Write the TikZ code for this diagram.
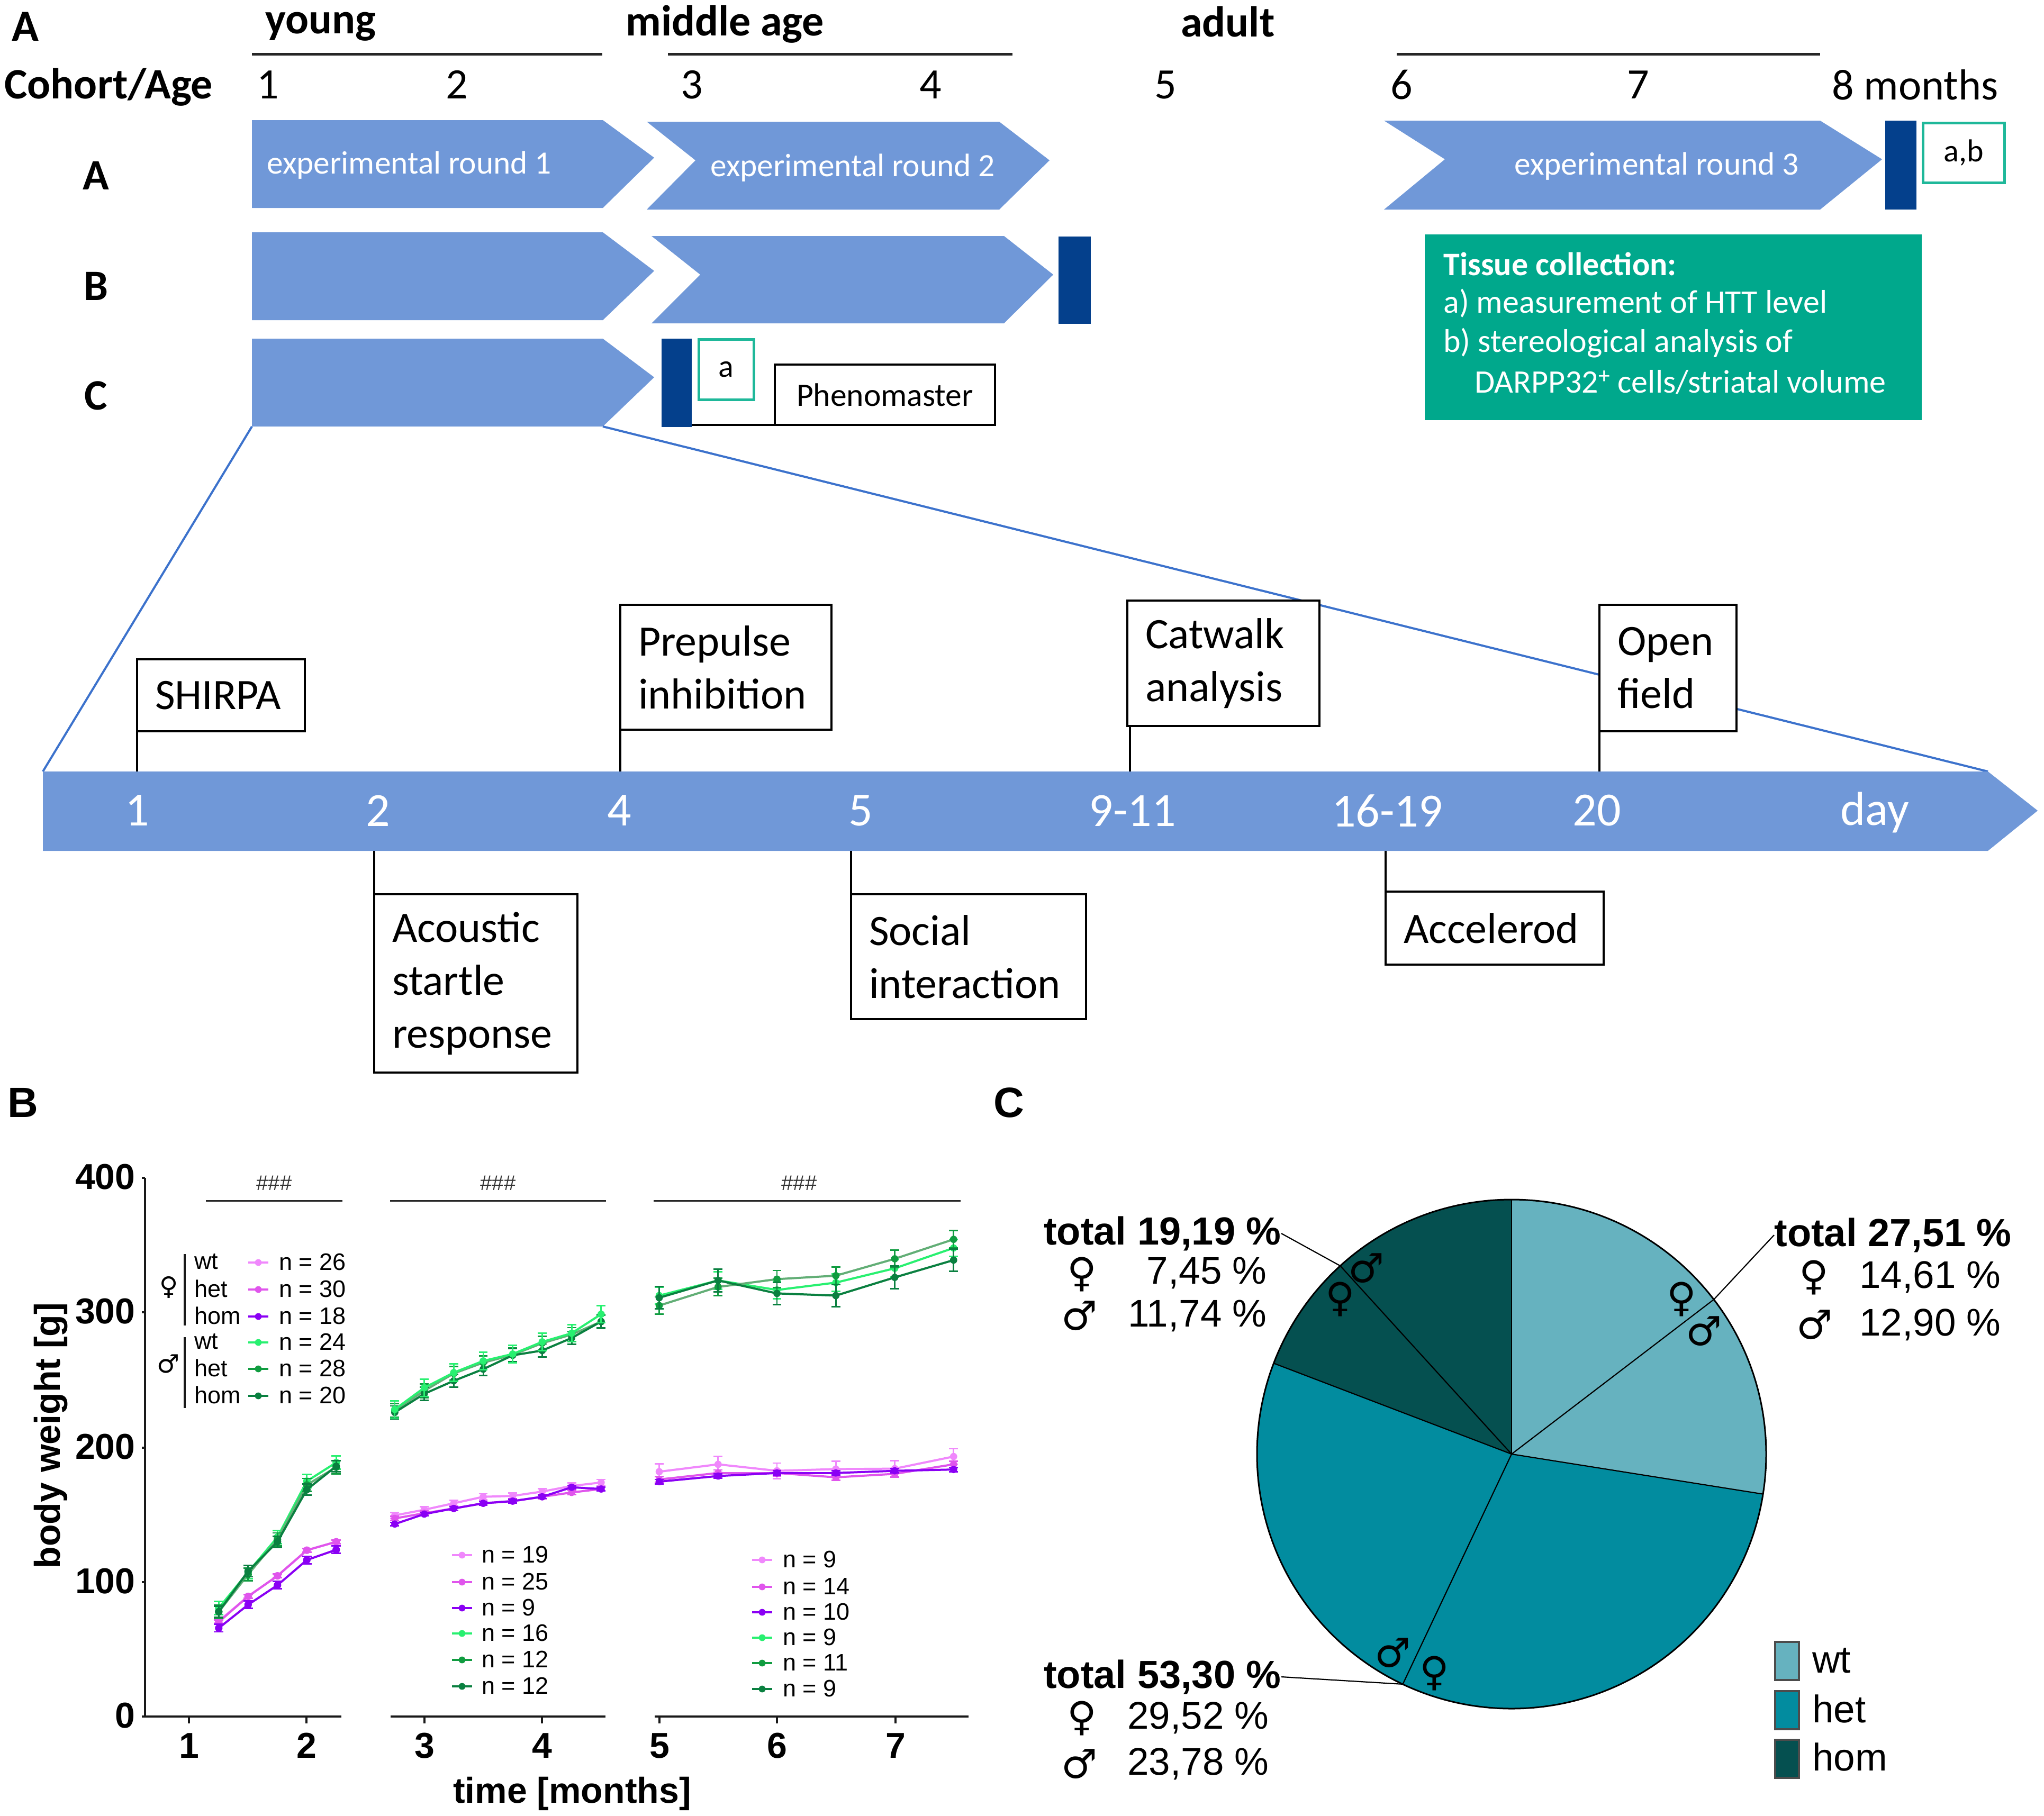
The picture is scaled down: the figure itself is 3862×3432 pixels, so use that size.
\documentclass[tikz,border=0pt]{standalone}
\usepackage{fontspec}
\usetikzlibrary{calc}
\setmainfont{Carlito}
\newfontfamily\arial{Liberation Sans}
\newfontfamily\djv{DejaVu Sans}
\definecolor{chev}{HTML}{7098D8}
\definecolor{bar}{HTML}{04408C}
\definecolor{teal}{HTML}{00A88C}
\definecolor{tealb}{HTML}{1FB89A}
\definecolor{blueline}{HTML}{3C72CC}
\definecolor{fwt}{HTML}{F088FC}
\definecolor{fhet}{HTML}{E055EC}
\definecolor{fhom}{HTML}{8A00F4}
\definecolor{mwt}{HTML}{28F070}
\definecolor{mhet}{HTML}{109C40}
\definecolor{mhetl}{HTML}{62AE76}
\definecolor{mhom}{HTML}{0A8040}
\definecolor{piewt}{HTML}{66B2BF}
\definecolor{piehet}{HTML}{028C9F}
\definecolor{piehom}{HTML}{055050}
\tikzset{
  headt/.style={font=\bfseries\fontsize{41}{49}\selectfont,inner sep=0pt},
  aget/.style={font=\fontsize{41}{49}\selectfont,inner sep=0pt},
  panel/.style={font=\arial\bfseries\fontsize{40}{40}\selectfont,inner sep=0pt},
  erlab/.style={font=\fontsize{30.7}{33}\selectfont,text=white,inner sep=0pt},
  tline/.style={font=\fontsize{45}{50}\selectfont,text=white,inner sep=0pt},
  tbox/.style={draw=black,line width=2pt,fill=white,align=left,inner ysep=0pt,inner xsep=17pt,outer sep=0pt,font=\fontsize{41}{50}\selectfont},
  tether/.style={draw=black,line width=1.6pt},
  agerule/.style={draw=black!85,line width=2.5pt},
  art/.style={font=\arial\fontsize{22.5}{27}\selectfont,inner sep=0pt},
  arb/.style={font=\arial\bfseries\fontsize{34}{40}\selectfont,inner sep=0pt},
  pct/.style={font=\arial\fontsize{36.4}{40}\selectfont,inner sep=0pt},
  tot/.style={font=\arial\bfseries\fontsize{37}{40}\selectfont,inner sep=0pt},
  symb/.style={font=\djv\fontsize{38}{38}\selectfont,inner sep=0pt},
  symsmall/.style={font=\djv\fontsize{24}{24}\selectfont,inner sep=0pt},
  axisl/.style={draw=black!90,line width=2pt},
  hashl/.style={font=\arial\fontsize{20}{24}\selectfont,text=black!80,inner sep=0pt},
  brk/.style={draw=black!85,line width=1.5pt},
  leader/.style={draw=black,line width=1.1pt},
  legsq/.style={draw=black!70,line width=2pt},
  tissue/.style={anchor=west,inner sep=0pt,text=white,font=\fontsize{31}{34}\selectfont},
}
\newcommand\dataline[6][]{%
  \def\lc{#1}\ifx\lc\empty\def\lc{#2}\fi
  \foreach \yy [count=\ii from 0, evaluate=\ii as \xx using #3+#4*\ii, remember=\yy as \py (initially 0), remember=\xx as \px (initially 0)] in {#6} {
    \ifnum\ii>0 \draw[\lc,line width=2pt,line cap=round] (\px,\py) -- (\xx,\yy); \fi
  }
  \foreach \yy [count=\ii from 0, evaluate=\ii as \xx using #3+#4*\ii] in {#6} {
    \draw[#2,line width=1.4pt] (\xx,\yy-#5) -- (\xx,\yy+#5) (\xx-\capw,\yy-#5) -- (\xx+\capw,\yy-#5) (\xx-\capw,\yy+#5) -- (\xx+\capw,\yy+#5);
    \fill[#2] (\xx,\yy) circle[x radius=\rdx pt,y radius=\rdy pt];
  }
}
\newcommand\legrow[6]{%
  \draw[#2,line width=1.6pt] (#3-19,#5) -- (#3+19,#5);
  \fill[#2] (#3,#5) circle[radius=3.2pt];
  \node[art,anchor=west] (#1) at (#4,#5-1) {#6};
}
\newcommand\tbx[6]{%
  \pgfmathsetmacro\bw{(#4-#2)/2}\pgfmathsetmacro\bh{(#5-#3)/2}\pgfmathsetmacro\bt{\bw-34}%
  \node[tbox,anchor=north west,minimum width=\bw pt,minimum height=\bh pt,text width=\bt pt] (#1) at (#2,#3) {#6};
}
\newcommand\sect[3]{\fill[#1] (pc) -- ++(90-#2:240.5pt) arc[start angle=90-#2,end angle=90-#3,radius=240.5pt] -- cycle;}
\begin{document}
\begin{tikzpicture}[x=0.5pt,y=-0.5pt]
\useasboundingbox (0,0) rectangle (3862,3432);
\fill[white] (0,0) rectangle (3862,3432);

% ---- panel A, top
\node[inner sep=0pt,font=\bfseries\fontsize{42}{42}\selectfont] (pA) at (48,50) {A};
\node[headt,anchor=west] (young) at (501,50) {young};
\node[headt,anchor=west] (midage) at (1182,46) {middle age};
\node[headt,anchor=west] (adult) at (2231,41) {adult};
\draw[agerule] (476,102) -- (1138,102);
\draw[agerule] (1262,102) -- (1913,102);
\draw[agerule] (2639,102) -- (3439,102);
\node[headt,anchor=west] (cohort) at (8,165) {Cohort/Age};
\node[aget] (m1) at (506,160) {1};
\node[aget] (m2) at (863,160) {2};
\node[aget] (m3) at (1307,160) {3};
\node[aget] (m4) at (1758,160) {4};
\node[aget] (m5) at (2202,160) {5};
\node[aget] (m6) at (2648,160) {6};
\node[aget] (m7) at (3095,160) {7};
\node[aget,anchor=west] (m8) at (3461,160) {8 months};
\node[headt] (rA) at (181,332) {A};
\node[headt] (rB) at (181,541) {B};
\node[headt] (rC) at (181,748) {C};

\fill[chev] (476,227) -- (1139,227) -- (1236,298) -- (1139,393) -- (476,393) -- cycle;
\fill[chev] (1222,230) -- (1888,230) -- (1983,303) -- (1888,396) -- (1222,396) -- (1314,303) -- cycle;
\fill[chev] (2615,228) -- (3439,228) -- (3556,301) -- (3439,396) -- (2615,396) -- (2730,301) -- cycle;
\fill[chev] (476,439) -- (1139,439) -- (1236,512) -- (1139,605) -- (476,605) -- cycle;
\fill[chev] (1231,446) -- (1897,446) -- (1990,519) -- (1897,611) -- (1231,611) -- (1323,519) -- cycle;
\fill[chev] (476,640) -- (1139,640) -- (1236,713) -- (1139,806) -- (476,806) -- cycle;
\coordinate (cbl) at (476,806);
\coordinate (cbr) at (1139,806);
\node[erlab,anchor=west] (er1) at (504,312) {experimental round 1};
\node[erlab,anchor=west] (er2) at (1342,317) {experimental round 2};
\node[erlab,anchor=west] (er3) at (2861,314) {experimental round 3};

\fill[bar] (3562,228) rectangle (3621,396);
\fill[bar] (2000,447) rectangle (2061,612);
\fill[bar] (1250,640) rectangle (1307,807);
\coordinate (barC) at (1307,803);

\node[draw=tealb,line width=2.5pt,fill=white,anchor=north west,outer sep=0pt,minimum width=52pt,minimum height=57pt,inner sep=0pt,font=\fontsize{30}{32}\selectfont] (boxa) at (1320,641) {a};
\node[draw=tealb,line width=2.5pt,fill=white,anchor=north west,outer sep=0pt,minimum width=77pt,minimum height=56.5pt,inner sep=0pt,font=\fontsize{30}{32}\selectfont] (boxab) at (3633,232) {a,b};
\node[draw=black,line width=2pt,fill=white,anchor=north west,outer sep=0pt,minimum width=208pt,minimum height=57pt,inner sep=0pt,font=\fontsize{30.8}{32}\selectfont] (pheno) at (1464,689) {Phenomaster};
\draw[tether] (barC) -- (barC -| pheno.west);

\fill[teal] (2692,443) rectangle (3631,794);
\node[tissue,font=\bfseries\fontsize{31}{34}\selectfont] (ti1) at (2727,499) {Tissue collection:};
\node[tissue] (ti2) at (2727,573) {a) measurement of HTT level};
\node[tissue] (ti3) at (2727,648) {b) stereological analysis of};
\node[tissue] (ti4) at (2786,722) {DARPP32\textsuperscript{+} cells/striatal volume};

% ---- time line
\coordinate (tll) at (81,1458);
\coordinate (tlr) at (3756,1458);
\draw[blueline,line width=2pt] (cbl) -- (tll);
\draw[blueline,line width=2pt] (cbr) -- (tlr);
\fill[chev] (81,1458) -- (3756,1458) -- (3850,1532) -- (3756,1608) -- (81,1608) -- cycle;
\node[tline] (d1) at (259,1532) {1};
\node[tline] (d2) at (714,1532) {2};
\node[tline] (d4) at (1170,1532) {4};
\node[tline] (d5) at (1626,1532) {5};
\node[tline] (d9) at (2140,1532) {9-11};
\node[tline] (d16) at (2621,1532) {16-19};
\node[tline] (d20) at (3017,1532) {20};
\node[tline] (dday) at (3542,1535) {day};

\tbx{shirpa}{259}{1246}{576}{1382}{SHIRPA}
\tbx{pre}{1172}{1143}{1571}{1379}{Prepulse\\inhibition}
\tbx{cat}{2130}{1135}{2493}{1372}{Catwalk\\analysis}
\tbx{open}{3022}{1143}{3281}{1382}{Open\\field}
\tbx{acou}{707}{1690}{1091}{2027}{Acoustic\\startle\\response}
\tbx{soc}{1608}{1690}{2052}{1926}{Social\\interaction}
\tbx{acc}{2618}{1685}{3030}{1823}{Accelerod}
\coordinate (t1) at (259,1458);
\coordinate (t4) at (1172,1458);
\coordinate (t9) at (2135,1458);
\coordinate (t20) at (3022,1458);
\coordinate (t2) at (707,1608);
\coordinate (t5) at (1608,1608);
\coordinate (t16) at (2618,1608);
\draw[tether] (shirpa.south west) -- (t1);
\draw[tether] (pre.south west) -- (t4);
\draw[tether] (t9 |- cat.south) -- (t9);
\draw[tether] (open.south west) -- (t20);
\draw[tether] (acou.north west) -- (t2);
\draw[tether] (soc.north west) -- (t5);
\draw[tether] (acc.north west) -- (t16);

% ---- panel B
\node[panel] (pB) at (43,2084) {B};
\draw[axisl] (274,2226) -- (274,3244) -- (645,3244);
\draw[axisl] (738,3244) -- (1144,3244);
\draw[axisl] (1237,3244) -- (1830,3244);
\foreach \v/\yy in {400/2226,300/2480,200/2736,100/2990,0/3244} {
  \draw[axisl] (268,\yy) -- (274,\yy);
  \node[arb,anchor=east] (yt\v) at (256,\yy-2) {\v};
}
\foreach \m/\xx in {1/357,2/579,3/802,4/1024,5/1246,6/1468,7/1692} {
  \draw[axisl] (\xx,3244) -- (\xx,3257);
  \node[arb] (xt\m) at (\xx,3299) {\m};
}
\node[arb,rotate=90] (ylab) at (96,2713) {body weight [g]};
\node[arb] (xlab) at (1081,3390) {time [months]};
\draw[brk] (389,2269) -- (647,2269);
\draw[brk] (737,2269) -- (1145,2269);
\draw[brk] (1235,2269) -- (1815,2269);
\node[hashl] (hash1) at (518,2236) {\#\#\#};
\node[hashl] (hash2) at (941,2236) {\#\#\#};
\node[hashl] (hash3) at (1510,2236) {\#\#\#};

% data: first block
\begin{scope}[shift={(0,2050)},xscale=0.6378,yscale=0.8814]
\def\capw{14}\def\rdx{5.6}\def\rdy{4.0}
\dataline{fwt}{648}{87}{4}{1150,1097,1053,998,980}
\dataline{fhet}{648}{87}{4}{1152,1097,1053,998,980}
\dataline{fhom}{648}{87}{8}{1165,1115,1073,1019,997}
\dataline{mwt}{648}{87}{14}{1122,1045,970,850,810}
\dataline[mhetl]{mhet}{648}{87}{14}{1130,1050,975,858,820}
\dataline{mhom}{648}{87}{12}{1130,1043,980,868,818}
\end{scope}
% second block
\begin{scope}[shift={(700,2150)},xscale=0.7651,yscale=0.8177]
\def\capw{11}\def\rdx{4.5}\def\rdy{4.2}
\dataline{fwt}{60}{72.8}{7}{873,860,845,830,828,818,805,797}
\dataline{fhet}{60}{72.8}{5}{880,868,857,845,840,830,820,812}
\dataline{fhom}{60}{72.8}{4}{893,870,857,845,840,830,808,812}
\dataline[mhetl]{mhet}{60}{72.8}{16}{630,585,545,520,502,475,455,425}
\dataline{mhom}{60}{72.8}{15}{635,592,562,535,503,492,463,425}
\dataline{mwt}{60}{72.8}{20}{628,578,543,516,500,472,452,408}
\end{scope}
% third block
\begin{scope}[shift={(700,2150)},xscale=0.7651,yscale=0.8177]
\def\capw{11}\def\rdx{4.5}\def\rdy{4.2}
\dataline{fwt}{713}{145.4}{18}{772,755,770,766,765,737}
\dataline{fhet}{713}{145.4}{7}{790,775,775,785,777,755}
\dataline{fhom}{713}{145.4}{5}{795,782,775,775,770,767}
\dataline{mwt}{713}{145.4}{20}{365,330,352,335,302,255}
\dataline[mhetl]{mhet}{713}{145.4}{20}{388,345,327,319,280,235}
\dataline{mhom}{713}{145.4}{26}{370,330,360,365,323,283}
\end{scope}

% legends
\draw[black!90,line width=2pt] (349,2370) -- (349,2505);
\draw[black!90,line width=2pt] (349,2527) -- (349,2661);
\node[symsmall] (legf) at (319,2433) {♀};
\node[symsmall] (legm) at (318,2578) {♂};
\foreach \nm/\tx/\yy in {lga/wt/2386,lgb/het/2437,lgc/hom/2488,lgd/wt/2537,lge/het/2587,lgf/hom/2638}
  \node[art,anchor=west] (\nm) at (367,\yy-2) {\tx};
\legrow{la1}{fwt}{488}{527}{2386}{n = 26}
\legrow{la2}{fhet}{488}{527}{2437}{n = 30}
\legrow{la3}{fhom}{488}{527}{2488}{n = 18}
\legrow{la4}{mwt}{488}{527}{2537}{n = 24}
\legrow{la5}{mhet}{488}{527}{2587}{n = 28}
\legrow{la6}{mhom}{488}{527}{2638}{n = 20}
\legrow{lb1}{fwt}{873}{910}{2939}{n = 19}
\legrow{lb2}{fhet}{873}{910}{2990}{n = 25}
\legrow{lb3}{fhom}{873}{910}{3039}{n = 9}
\legrow{lb4}{mwt}{873}{910}{3087}{n = 16}
\legrow{lb5}{mhet}{873}{910}{3137}{n = 12}
\legrow{lb6}{mhom}{873}{910}{3187}{n = 12}
\legrow{lc1}{fwt}{1440}{1479}{2948}{n = 9}
\legrow{lc2}{fhet}{1440}{1479}{2999}{n = 14}
\legrow{lc3}{fhom}{1440}{1479}{3047}{n = 10}
\legrow{lc4}{mwt}{1440}{1479}{3095}{n = 9}
\legrow{lc5}{mhet}{1440}{1479}{3143}{n = 11}
\legrow{lc6}{mhom}{1440}{1479}{3192}{n = 9}

% ---- panel C
\node[panel] (pC) at (1906,2084) {C};
\coordinate (pc) at (2856,2748);
\sect{piewt}{0}{99.04}
\sect{piehet}{99.04}{290.9}
\sect{piehom}{290.9}{360}
\foreach \a in {0,52.6,99.04,205.3,290.9,317.7}
  \draw[black,line width=1.1pt] (pc) -- ++(90-\a:240.5pt);
\draw[black,line width=1.5pt] (pc) circle[radius=240.5pt];
\coordinate (ewt) at ($(pc)+(90-52.6:240.5pt)$);
\coordinate (ehet) at ($(pc)+(90-205.3:240.5pt)$);
\coordinate (ehom) at ($(pc)+(90-317.7:240.5pt)$);

\node[tot,anchor=west] (tw) at (3352,2334) {total 27,51 \%};
\node[tot,anchor=east] (th) at (2421,2331) {total 19,19 \%};
\node[tot,anchor=east] (te) at (2421,3169) {total 53,30 \%};
\draw[leader] (tw.west) -- (ewt);
\draw[leader] (th.east) -- (ehom);
\draw[leader] (te.east) -- (ehet);

\node[symb] (s1) at (3427,2414) {♀};
\node[pct,anchor=east] (p1) at (3781,2414) {14,61 \%};
\node[symb] (s2) at (3429,2504) {♂};
\node[pct,anchor=east] (p2) at (3781,2504) {12,90 \%};
\node[symb] (s3) at (2044,2408) {♀};
\node[pct,anchor=east] (p3) at (2394,2406) {7,45 \%};
\node[symb] (s4) at (2040,2487) {♂};
\node[pct,anchor=east] (p4) at (2394,2487) {11,74 \%};
\node[symb] (s5) at (2044,3247) {♀};
\node[pct,anchor=east] (p5) at (2398,3247) {29,52 \%};
\node[symb] (s6) at (2040,3334) {♂};
\node[pct,anchor=east] (p6) at (2398,3334) {23,78 \%};

\node[symb] (i1) at (3177,2455) {♀};
\node[symb] (i2) at (3220,2516) {♂};
\node[symb] (i3) at (2582,2397) {♂};
\node[symb] (i4) at (2532,2455) {♀};
\node[symb] (i5) at (2632,3124) {♂};
\node[symb] (i6) at (2710,3162) {♀};

\filldraw[legsq,fill=piewt] (3354,3103) rectangle (3399,3175);
\filldraw[legsq,fill=piehet] (3354,3196) rectangle (3399,3268);
\filldraw[legsq,fill=piehom] (3354,3288) rectangle (3399,3360);
\node[pct,anchor=west] (k1) at (3424,3138) {wt};
\node[pct,anchor=west] (k2) at (3424,3229) {het};
\node[pct,anchor=west] (k3) at (3424,3320) {hom};
\end{tikzpicture}
\end{document}
